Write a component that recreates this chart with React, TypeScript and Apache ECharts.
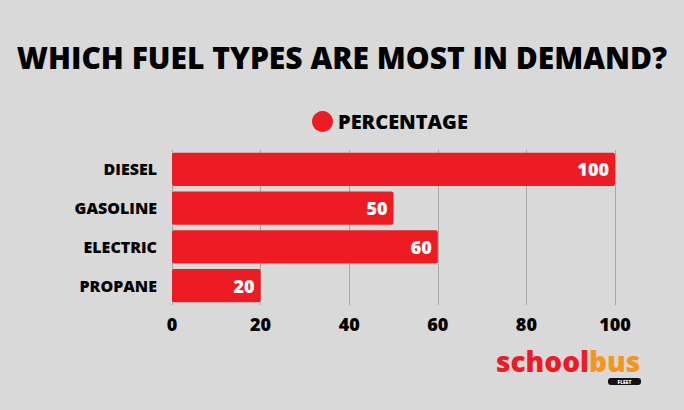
import React, { useEffect, useRef } from "react";
import * as echarts from "echarts";

const categories = ["DIESEL", "GASOLINE", "ELECTRIC", "PROPANE"];
const percentage = [100, 50, 60, 20];
const xTicks = [0, 20, 40, 60, 80, 100];

const FONT = "'Open Sans', 'Noto Sans', sans-serif";

export default function App() {
  const ref = useRef<HTMLDivElement>(null);
  useEffect(() => {
    document.body.style.margin = "0";
    const chart = echarts.init(ref.current!, null, { renderer: "svg" });
    chart.setOption({
      animation: false,
      backgroundColor: "#d9d9d9",
      title: {
        text: "WHICH FUEL TYPES ARE MOST IN DEMAND?",
        left: "center",
        top: 37,
        textStyle: { fontFamily: FONT, fontWeight: 800, fontSize: 30, color: "#000" },
      },
      legend: {
        top: 106,
        left: 307,
        itemWidth: 21,
        itemHeight: 21,
        itemGap: 10,
        icon: "circle",
        textStyle: { fontFamily: FONT, fontWeight: 800, fontSize: 20, color: "#000" },
        data: ["PERCENTAGE"],
      },
      grid: { left: 172, right: 69, top: 150, height: 155, containLabel: false },
      xAxis: {
        type: "value",
        min: 0,
        max: 100,
        interval: 20,
        axisLine: { show: false },
        axisTick: { show: false },
        splitLine: { show: true, lineStyle: { color: "#a8a8a8", width: 1 } },
        axisLabel: {
          margin: 10,
          fontFamily: FONT,
          fontWeight: 800,
          fontSize: 18,
          color: "#000",
          formatter: (v: number) => (xTicks.includes(v) ? String(v) : ""),
        },
      },
      yAxis: {
        type: "category",
        inverse: true,
        data: categories,
        axisLine: { show: false },
        axisTick: { show: false },
        axisLabel: {
          margin: 15,
          fontFamily: FONT,
          fontWeight: 800,
          fontSize: 16,
          color: "#000",
        },
      },
      series: [
        {
          name: "PERCENTAGE",
          type: "bar",
          data: percentage,
          barCategoryGap: "14%",
          itemStyle: { color: "#ed1c24", borderRadius: 2 },
          label: {
            show: true,
            position: "insideRight",
            distance: 6,
            color: "#fff",
            fontFamily: FONT,
            fontWeight: 800,
            fontSize: 18,
          },
        },
      ],
      graphic: [
        {
          type: "text",
          left: 496,
          top: 347,
          style: {
            text: "school",
            fontFamily: "'Open Sans', sans-serif",
            fontWeight: 800,
            fontSize: 28,
            lineHeight: 25,
            fill: "#ed1c24",
          },
        },
        {
          type: "text",
          left: 589,
          top: 347,
          style: {
            text: "bus",
            fontFamily: "'Open Sans', sans-serif",
            fontWeight: 800,
            fontSize: 28,
            lineHeight: 25,
            fill: "#f7941d",
          },
        },
        {
          type: "rect",
          shape: { x: 608, y: 378, width: 33, height: 7, r: 3 },
          style: { fill: "#111" },
        },
        {
          type: "text",
          x: 624.5,
          y: 382,
          style: {
            text: "FLEET",
            fontFamily: FONT,
            fontWeight: 800,
            fontSize: 5,
            lineHeight: 5,
            fill: "#fff",
            align: "center",
            verticalAlign: "middle",
          },
        },
      ],
    });
    return () => chart.dispose();
  }, []);
  return <div ref={ref} style={{ width: 684, height: 410 }} />;
}
